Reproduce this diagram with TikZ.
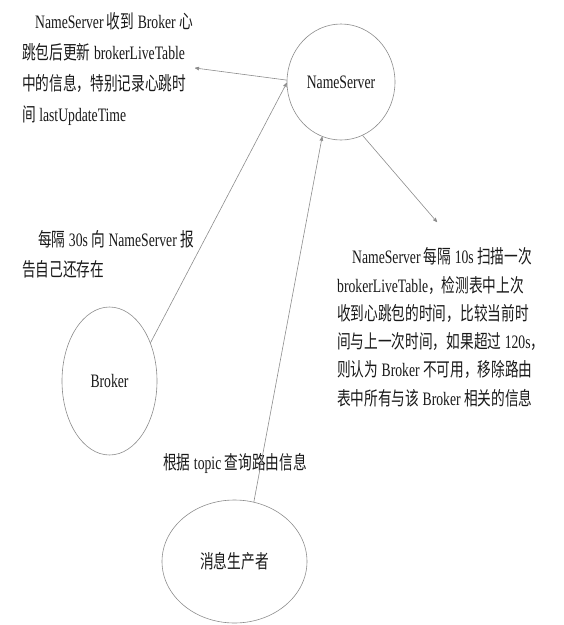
\documentclass[tikz,border=0pt]{standalone}
\usepackage{fontspec}
\setmainfont[FakeStretch=0.72]{Liberation Serif}
\newfontfamily\zhfont[FakeStretch=0.72]{Noto Sans CJK SC}
\newcommand{\zht}[1]{{\zhfont #1}}
\usepackage{tikz}
\usetikzlibrary{arrows, shapes.geometric}
\tikzstyle{entity}=[ellipse, draw=black!45, line width=0.6pt, inner sep=0pt, text=black!90]
\tikzstyle{note}=[anchor=north west, align=left, inner sep=0pt, text=black!90]
\tikzstyle{post}=[->, draw=black!45, line width=0.6pt]

\begin{document}
\begin{tikzpicture}[x=1pt, y=-1pt, >=stealth', font=\fontsize{19}{30}\selectfont]
      \useasboundingbox (0,0) rectangle (564,625);

      \node[entity, minimum width=108pt, minimum height=116pt] (ns)       at (341,82)    {NameServer};
      \node[entity, minimum width=95pt,  minimum height=148pt] (broker)   at (109.5,381) {Broker};
      \node[entity, minimum width=145pt, minimum height=123pt] (producer) at (234.5,561.5) {\zht{消息生产者}};

      \node[note, font=\fontsize{19}{31}\selectfont] (nsnote) at (22,12.5)
            {\hspace*{13pt}NameServer \zht{收到} Broker \zht{心}\\
             \zht{跳包后更新} brokerLiveTable\\
             \zht{中的信息，特别记录心跳时}\\
             \zht{间} lastUpdateTime};
      \node[note, font=\fontsize{19}{30}\selectfont] (brokernote) at (22,230.5)
            {\hspace*{16pt}\zht{每隔} 30s \zht{向} NameServer \zht{报}\\
             \zht{告自己还存在}};
      \node[note, font=\fontsize{19}{28.3}\selectfont] (scannote) at (337,247.5)
            {\hspace*{15pt}NameServer \zht{每隔} 10s \zht{扫描一次}\\
             brokerLiveTable\zht{，检测表中上次}\\
             \zht{收到心跳包的时间，比较当前时}\\
             \zht{间与上一次时间，如果超过} 120s\zht{，}\\
             \zht{则认为} Broker \zht{不可用，移除路由}\\
             \zht{表中所有与该} Broker \zht{相关的信息}};
      \node[note] (producernote) at (163,453.5)
            {\zht{根据} topic \zht{查询路由信息}};

      \coordinate (tipL) at (195,68);
      \coordinate (tipR) at (437,222);

      \draw[post] (ns.178)      -- (tipL);
      \draw[post] (broker.43)   -- (ns.181);
      \draw[post] (producer.72) -- (ns.251);
      \draw[post] (ns.292)      -- (tipR);
\end{tikzpicture}
\end{document}
